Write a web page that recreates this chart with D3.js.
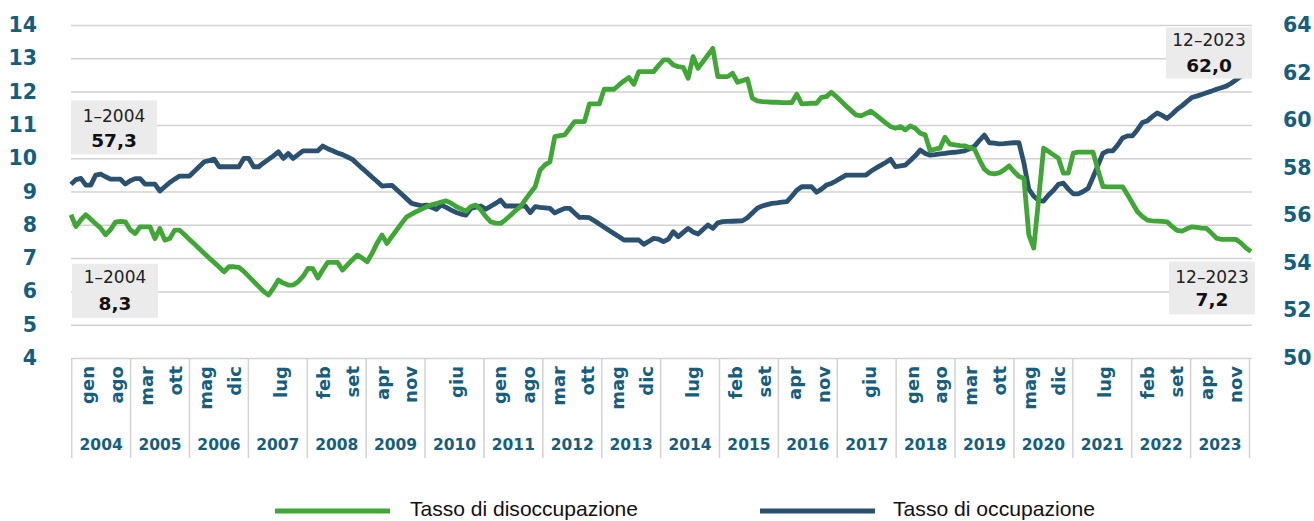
<!DOCTYPE html>
<html><head><meta charset="utf-8">
<script src="https://cdn.jsdelivr.net/npm/d3@7"></script>
<style>body{margin:0;background:#fff;} svg{display:block;}</style>
</head><body>
<svg id="chart" width="1314" height="521"></svg>
<script>
// ---------- DATA ----------
const years = [2004,2005,2006,2007,2008,2009,2010,2011,2012,2013,2014,2015,2016,2017,2018,2019,2020,2021,2022,2023];

// Tasso di disoccupazione (%), monthly Jan 2004 - Dec 2023 (left axis)
const unemployment = [
  8.3, 7.95, 8.15, 8.3, 8.17, 8.03, 7.9, 7.7, 7.85, 8.08, 8.1, 8.09,
  7.85, 7.74, 7.94, 7.94, 7.94, 7.59, 7.89, 7.54, 7.59, 7.84, 7.84, 7.7,
  7.56, 7.42, 7.28, 7.14, 7.0, 6.87, 6.73, 6.59, 6.74, 6.74, 6.72, 6.6,
  6.45, 6.3, 6.15, 6.0, 5.89, 6.1, 6.34, 6.25, 6.19, 6.19, 6.29, 6.45,
  6.69, 6.68, 6.4, 6.65, 6.87, 6.87, 6.87, 6.64, 6.8, 6.95, 7.09, 7.0,
  6.89, 7.15, 7.45, 7.69, 7.44, 7.65, 7.85, 8.05, 8.24, 8.32, 8.4, 8.47,
  8.54, 8.6, 8.64, 8.68, 8.72, 8.65, 8.55, 8.48, 8.41, 8.55, 8.59, 8.45,
  8.25, 8.09, 8.05, 8.04, 8.15, 8.28, 8.42, 8.54, 8.75, 8.95, 9.14, 9.64,
  9.8, 9.89, 10.65, 10.68, 10.7, 10.9, 11.1, 11.1, 11.1, 11.63, 11.63, 11.63,
  12.07, 12.07, 12.07, 12.2, 12.32, 12.42, 12.22, 12.6, 12.6, 12.6, 12.6, 12.78,
  12.95, 12.95, 12.8, 12.75, 12.73, 12.4, 13.05, 12.7, 12.9, 13.1, 13.3, 12.45,
  12.45, 12.45, 12.55, 12.28, 12.33, 12.38, 11.8, 11.72, 11.7, 11.69, 11.68, 11.68,
  11.67, 11.67, 11.67, 11.92, 11.63, 11.64, 11.65, 11.65, 11.83, 11.85, 11.98, 11.85,
  11.71, 11.57, 11.43, 11.3, 11.27, 11.34, 11.41, 11.3, 11.18, 11.06, 10.95, 10.9,
  10.95, 10.85, 10.97, 10.9, 10.75, 10.7, 10.23, 10.27, 10.3, 10.63, 10.42, 10.4,
  10.38, 10.37, 10.32, 10.27, 9.95, 9.67, 9.55, 9.53, 9.56, 9.65, 9.77, 9.6,
  9.45, 9.4, 7.7, 7.3, 8.8, 10.3, 10.2, 10.1, 10.0, 9.55, 9.55, 10.15,
  10.18, 10.18, 10.18, 10.18, 9.65, 9.15, 9.14, 9.14, 9.14, 9.14, 8.9, 8.65,
  8.39, 8.25, 8.14, 8.12, 8.11, 8.1, 8.09, 7.95, 7.83, 7.81, 7.88, 7.94,
  7.92, 7.9, 7.89, 7.75, 7.6, 7.56, 7.56, 7.56, 7.56, 7.45, 7.3, 7.2
];

// Tasso di occupazione (%), monthly Jan 2004 - Dec 2023 (right axis)
const employment = [
  57.3, 57.5, 57.55, 57.27, 57.27, 57.69, 57.73, 57.62, 57.52, 57.52, 57.52, 57.31,
  57.45, 57.54, 57.54, 57.31, 57.31, 57.31, 57.02, 57.2, 57.38, 57.52, 57.65, 57.65,
  57.65, 57.85, 58.05, 58.25, 58.3, 58.36, 58.04, 58.04, 58.04, 58.04, 58.04, 58.39,
  58.39, 58.04, 58.04, 58.2, 58.35, 58.5, 58.67, 58.39, 58.6, 58.39, 58.55, 58.71,
  58.71, 58.71, 58.71, 58.91, 58.8, 58.71, 58.62, 58.55, 58.45, 58.35, 58.16, 57.97,
  57.79, 57.6, 57.42, 57.23, 57.25, 57.26, 57.07, 56.88, 56.69, 56.5, 56.45, 56.4,
  56.43, 56.34, 56.25, 56.43, 56.33, 56.22, 56.12, 56.05, 56.01, 56.29, 56.34, 56.39,
  56.25, 56.38, 56.5, 56.64, 56.39, 56.39, 56.39, 56.39, 56.39, 56.11, 56.36, 56.33,
  56.31, 56.29, 56.1, 56.2, 56.29, 56.29, 56.1, 55.91, 55.91, 55.9, 55.77, 55.63,
  55.5, 55.36, 55.23, 55.1, 54.96, 54.96, 54.96, 54.96, 54.78, 54.9, 55.03, 55.0,
  54.89, 55.0, 55.31, 55.1, 55.28, 55.45, 55.3, 55.21, 55.4, 55.59, 55.45, 55.68,
  55.73, 55.74, 55.75, 55.76, 55.77, 55.9, 56.1, 56.3, 56.39, 56.45, 56.5, 56.52,
  56.55, 56.57, 56.8, 57.05, 57.2, 57.2, 57.2, 56.97, 57.1, 57.27, 57.34, 57.45,
  57.57, 57.69, 57.69, 57.69, 57.69, 57.69, 57.85, 57.98, 58.1, 58.22, 58.35, 58.04,
  58.08, 58.11, 58.3, 58.5, 58.74, 58.6, 58.53, 58.55, 58.58, 58.6, 58.63, 58.65,
  58.68, 58.71, 58.8, 58.91, 59.15, 59.37, 59.05, 59.03, 59.0, 59.01, 59.03, 59.05,
  59.05, 58.2, 57.1, 56.8, 56.62, 56.6, 56.85, 57.05, 57.3, 57.35, 57.1, 56.9,
  56.9, 57.0, 57.13, 57.6, 58.1, 58.6, 58.71, 58.71, 58.95, 59.25, 59.34, 59.34,
  59.6, 59.9, 59.97, 60.15, 60.3, 60.2, 60.07, 60.25, 60.45, 60.6, 60.78, 60.95,
  61.01, 61.08, 61.15, 61.22, 61.3, 61.36, 61.43, 61.55, 61.7, 61.85, 61.92, 62.0
];

const tickLabels = ["gen","ago","mar","ott","mag","dic","lug","feb","set","apr","nov","giu",
  "gen","ago","mar","ott","mag","dic","lug","feb","set","apr","nov","giu",
  "gen","ago","mar","ott","mag","dic","lug","feb","set","apr","nov"];
const tickYears = [2004,2004,2005,2005,2006,2006,2007,2008,2008,2009,2009,2010,
  2011,2011,2012,2012,2013,2013,2014,2015,2015,2016,2016,2017,
  2018,2018,2019,2019,2020,2020,2021,2022,2022,2023,2023];

const leftTicks = [4,5,6,7,8,9,10,11,12,13,14];
const rightTicks = [50,52,54,56,58,60,62,64];
const seriesNames = ["Tasso di disoccupazione", "Tasso di occupazione"];
const startLabel = "1–2004";
const endLabel = "12–2023";

// ---------- SETUP ----------
const svg = d3.select("#chart");
const W = 1314, H = 521;
const plotL = 71, plotR = 1251, plotT = 25, plotB = 358;
const green = "#40a737", blue = "#2b5170", teal = "#155e7e", grid = "#d2d2d2";
const numFont = "'DejaVu Sans', sans-serif";
const fmt = d3.formatLocale({decimal: ",", thousands: ".", grouping: [3], currency: ["€", ""]}).format(".1f");

const x = d3.scaleLinear().domain([0, unemployment.length - 1]).range([plotL, plotR]);
const yearBand = d3.scaleBand().domain(years).range([71.7, 1249.5]).padding(0);
const yL = d3.scaleLinear().domain([4, 14]).range([plotB, plotT]);
const yR = d3.scaleLinear().domain([50, 64]).range([plotB, plotT]);

svg.append("rect").attr("width", W).attr("height", H).attr("fill", "#fff");

// gridlines
const gridG = svg.append("g").attr("transform", `translate(${plotL},0)`)
  .call(d3.axisLeft(yL).tickValues(leftTicks).tickSize(-(plotR + 1 - plotL)).tickFormat(""));
gridG.select(".domain").remove();
gridG.selectAll(".tick line").attr("stroke", grid).attr("stroke-width", 1.5);

// x-axis cells: vertical separators
const sepXs = years.map(y => yearBand(y)).concat([yearBand.range()[1]]);
svg.append("g").selectAll("line").data(sepXs).join("line")
  .attr("x1", d => d).attr("x2", d => d)
  .attr("y1", plotB).attr("y2", 458)
  .attr("stroke", grid).attr("stroke-width", 1.5);

// left axis labels
const la = svg.append("g").attr("transform", "translate(40,0)")
  .call(d3.axisLeft(yL).tickValues(leftTicks).tickSize(0).tickPadding(3).tickFormat(d3.format("d")));
la.select(".domain").remove();
la.selectAll("text").attr("font-family", numFont).attr("font-weight", "bold")
  .attr("font-size", 20.5).attr("fill", teal);

// right axis labels
const ra = svg.append("g").attr("transform", "translate(1280,0)")
  .call(d3.axisRight(yR).tickValues(rightTicks).tickSize(0).tickPadding(3).tickFormat(d3.format("d")));
ra.select(".domain").remove();
ra.selectAll("text").attr("font-family", numFont).attr("font-weight", "bold")
  .attr("font-size", 20.5).attr("fill", teal);

// month tick labels (positioned within each year cell)
const ticks = tickLabels.map((lab, i) => ({lab, year: tickYears[i]}));
const perYear = d3.group(ticks, d => d.year);
ticks.forEach(t => {
  const grp = perYear.get(t.year);
  const k = grp.indexOf(t);
  const frac = grp.length === 1 ? [0.54] : [0.27, 0.76];
  t.x = yearBand(t.year) + yearBand.bandwidth() * frac[k];
});
svg.append("g").selectAll("text").data(ticks).join("text")
  .attr("transform", d => `translate(${d.x},366) rotate(-90)`)
  .attr("dy", "0.36em")
  .attr("text-anchor", "end")
  .attr("font-family", numFont).attr("font-weight", "bold")
  .attr("font-size", 18).attr("fill", teal)
  .text(d => d.lab);

// year labels
svg.append("g").selectAll("text").data(years).join("text")
  .attr("x", d => yearBand(d) + yearBand.bandwidth() / 2)
  .attr("y", 450)
  .attr("text-anchor", "middle")
  .attr("font-family", numFont).attr("font-weight", "bold")
  .attr("font-size", 15.5).attr("fill", teal)
  .text(d => d);

// lines
const idx = d3.range(unemployment.length);
svg.append("path").datum(idx)
  .attr("fill", "none").attr("stroke", blue).attr("stroke-width", 4.8)
  .attr("stroke-linejoin", "round")
  .attr("d", d3.line().x(i => x(i)).y(i => yR(employment[i])));
svg.append("path").datum(idx)
  .attr("fill", "none").attr("stroke", green).attr("stroke-width", 4.8)
  .attr("stroke-linejoin", "round")
  .attr("d", d3.line().x(i => x(i)).y(i => yL(unemployment[i])));

// annotation boxes
const last = unemployment.length - 1;
const notes = [
  {date: startLabel, val: fmt(employment[0]), x0: x(0), y0: yR(employment[0]) - 84, w: 86, h: 54, d1: 21.5, d2: 47},
  {date: startLabel, val: fmt(unemployment[0]), x0: x(0) + 1, y0: yL(unemployment[0]) + 49, w: 86, h: 54, d1: 19.5, d2: 46},
  {date: endLabel, val: fmt(employment[last]), x0: x(last) - 85, y0: yR(employment[last]) - 45, w: 86, h: 51, d1: 18, d2: 44},
  {date: endLabel, val: fmt(unemployment[last]), x0: x(last) - 82, y0: yL(unemployment[last]) + 10, w: 86, h: 53, d1: 21.5, d2: 45}
];
const ng = svg.append("g").selectAll("g").data(notes).join("g")
  .attr("transform", d => `translate(${d.x0},${d.y0})`);
ng.append("rect").attr("width", d => d.w).attr("height", d => d.h).attr("fill", "#ebebeb");
ng.append("text").attr("x", d => d.w / 2).attr("y", d => d.d1).attr("text-anchor", "middle")
  .attr("font-family", numFont).attr("font-size", 17).attr("fill", "#222").text(d => d.date);
ng.append("text").attr("x", d => d.w / 2).attr("y", d => d.d2).attr("text-anchor", "middle")
  .attr("font-family", numFont).attr("font-weight", "bold").attr("font-size", 18.5).attr("fill", "#111").text(d => d.val);

// legend
const legend = [
  {name: seriesNames[0], color: green, lx: 275, tx: 410, tw: 228},
  {name: seriesNames[1], color: blue, lx: 760, tx: 893, tw: 202}
];
const lg = svg.append("g").selectAll("g").data(legend).join("g");
lg.append("line").attr("x1", d => d.lx).attr("x2", d => d.lx + 115)
  .attr("y1", 511).attr("y2", 511).attr("stroke", d => d.color).attr("stroke-width", 5);
lg.append("text").attr("x", d => d.tx).attr("y", 516)
  .attr("font-family", "'Liberation Sans Narrow', 'Liberation Sans', Arial, sans-serif")
  .attr("font-size", 21).attr("fill", "#111")
  .attr("textLength", d => d.tw).attr("lengthAdjust", "spacingAndGlyphs")
  .text(d => d.name);
</script>
</body></html>
